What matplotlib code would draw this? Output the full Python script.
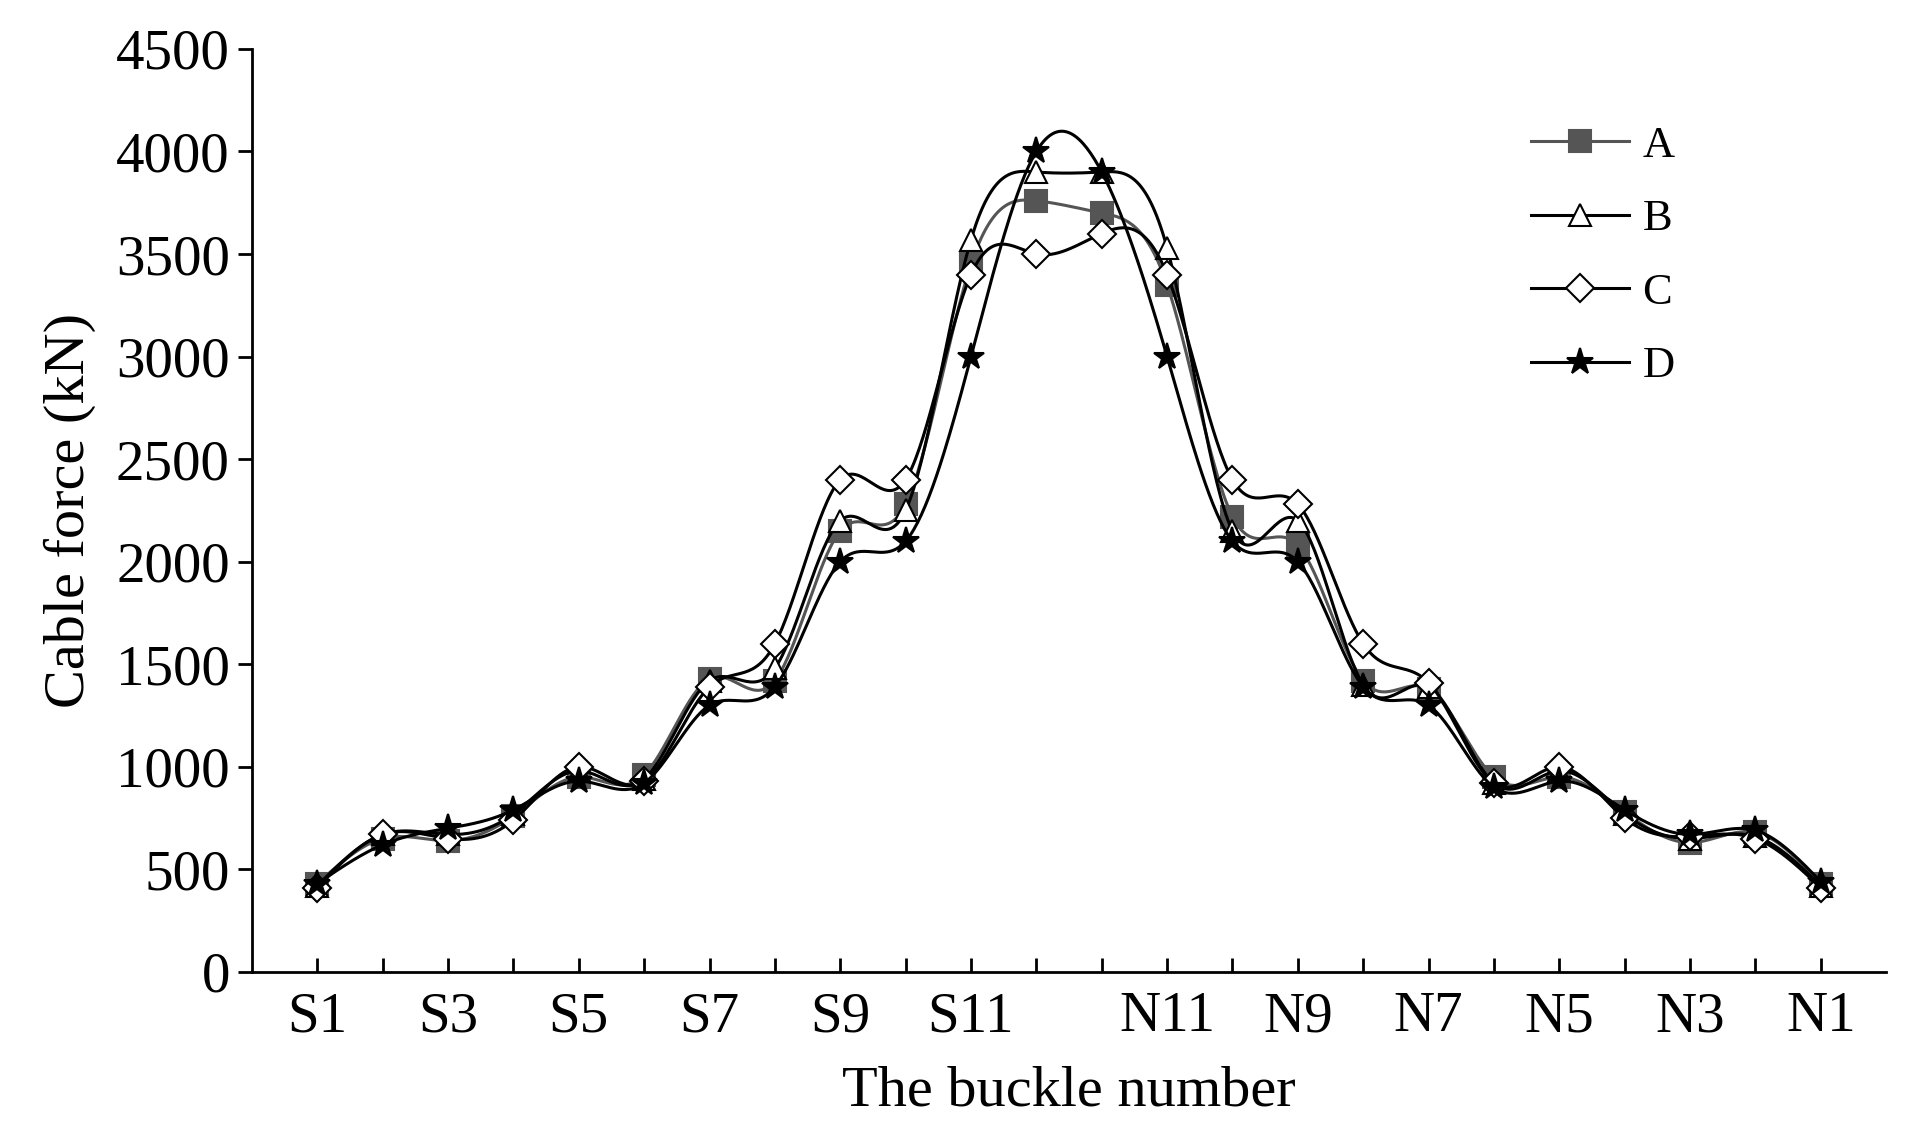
import numpy as np
import matplotlib
matplotlib.use("Agg")
import matplotlib.pyplot as plt

plt.rcParams['font.family'] = ['Liberation Serif', 'DejaVu Serif']

labels = ['S1', '', 'S3', '', 'S5', '', 'S7', '', 'S9', '', 'S11', '',
          '', 'N11', '', 'N9', '', 'N7', '', 'N5', '', 'N3', '', 'N1']
A = [430, 650, 640, 760, 950, 960, 1430, 1420, 2150, 2280, 3450, 3760,
     3700, 3350, 2220, 2080, 1420, 1380, 950, 950, 780, 630, 680, 430]
B = [420, 670, 670, 770, 980, 940, 1420, 1480, 2200, 2250, 3570, 3900,
     3900, 3530, 2150, 2200, 1400, 1390, 920, 980, 770, 650, 660, 420]
C = [410, 670, 650, 740, 1000, 930, 1390, 1600, 2400, 2400, 3400, 3500,
     3600, 3400, 2400, 2280, 1600, 1410, 920, 1000, 750, 660, 650, 410]
D = [430, 620, 700, 790, 930, 920, 1300, 1390, 2000, 2100, 3000, 4000,
     3900, 3000, 2100, 2000, 1390, 1300, 900, 930, 790, 670, 690, 440]


def natural_spline(x, y, xs):
    # natural cubic spline for the smoothed connecting line
    x = np.asarray(x, float); y = np.asarray(y, float)
    n = len(x); h = np.diff(x)
    M = np.zeros((n, n)); r = np.zeros(n)
    M[0, 0] = M[-1, -1] = 1
    for i in range(1, n - 1):
        M[i, i - 1] = h[i - 1]; M[i, i] = 2 * (h[i - 1] + h[i]); M[i, i + 1] = h[i]
        r[i] = 6 * ((y[i + 1] - y[i]) / h[i] - (y[i] - y[i - 1]) / h[i - 1])
    m = np.linalg.solve(M, r)
    k = np.clip(np.searchsorted(x, xs) - 1, 0, n - 2)
    t0 = x[k + 1] - xs; t1 = xs - x[k]; hk = h[k]
    return (m[k] * t0**3 + m[k + 1] * t1**3) / (6 * hk) + \
        (y[k] / hk - m[k] * hk / 6) * t0 + (y[k + 1] / hk - m[k + 1] * hk / 6) * t1


x = np.arange(1, len(labels) + 1)
xs = np.linspace(x[0], x[-1], 800)

fig = plt.figure(figsize=(19.09, 11.38), dpi=100)
ax = fig.add_axes([0.132, 0.146, 0.856, 0.811])

styles = [('A', A, dict(marker='s', mfc='#555555', mec='#555555'), '#555555'),
          ('B', B, dict(marker='^', mfc='white', mec='black'), 'black'),
          ('C', C, dict(marker='D', mfc='white', mec='black', markersize=14), 'black'),
          ('D', D, dict(marker='*', mfc='black', mec='black', markersize=20), 'black')]
for name, vals, mk, col in styles:
    ax.plot(xs, natural_spline(x, vals, xs), color=col, lw=2.2)
    kw = dict(markersize=16, mew=1.5)
    kw.update(mk)
    ax.plot(x, vals, ls='none', **kw)
    ax.plot([], [], color=col, lw=2.2, label=name, **kw)

ax.set_xlim(0, 25)
ax.set_ylim(0, 4500)
ax.set_yticks(range(0, 4501, 500))
ax.set_xticks(x)
ax.set_xticklabels(labels)
ax.spines['top'].set_visible(False)
ax.spines['right'].set_visible(False)
for s in ['left', 'bottom']:
    ax.spines[s].set_linewidth(2)
ax.tick_params(axis='y', direction='out', length=10, width=2, labelsize=41, pad=6)
ax.tick_params(axis='x', direction='in', length=10, width=2, labelsize=41, pad=14)
ax.set_xlabel('The buckle number', fontsize=42, labelpad=16)
ax.set_ylabel('Cable force (kN)', fontsize=42, labelpad=14)
ax.legend(loc='upper right', bbox_to_anchor=(0.895, 0.96), frameon=False,
          fontsize=32, handlelength=2.2, handletextpad=0.3, labelspacing=0.75)

fig.savefig('out.png', dpi=100)
